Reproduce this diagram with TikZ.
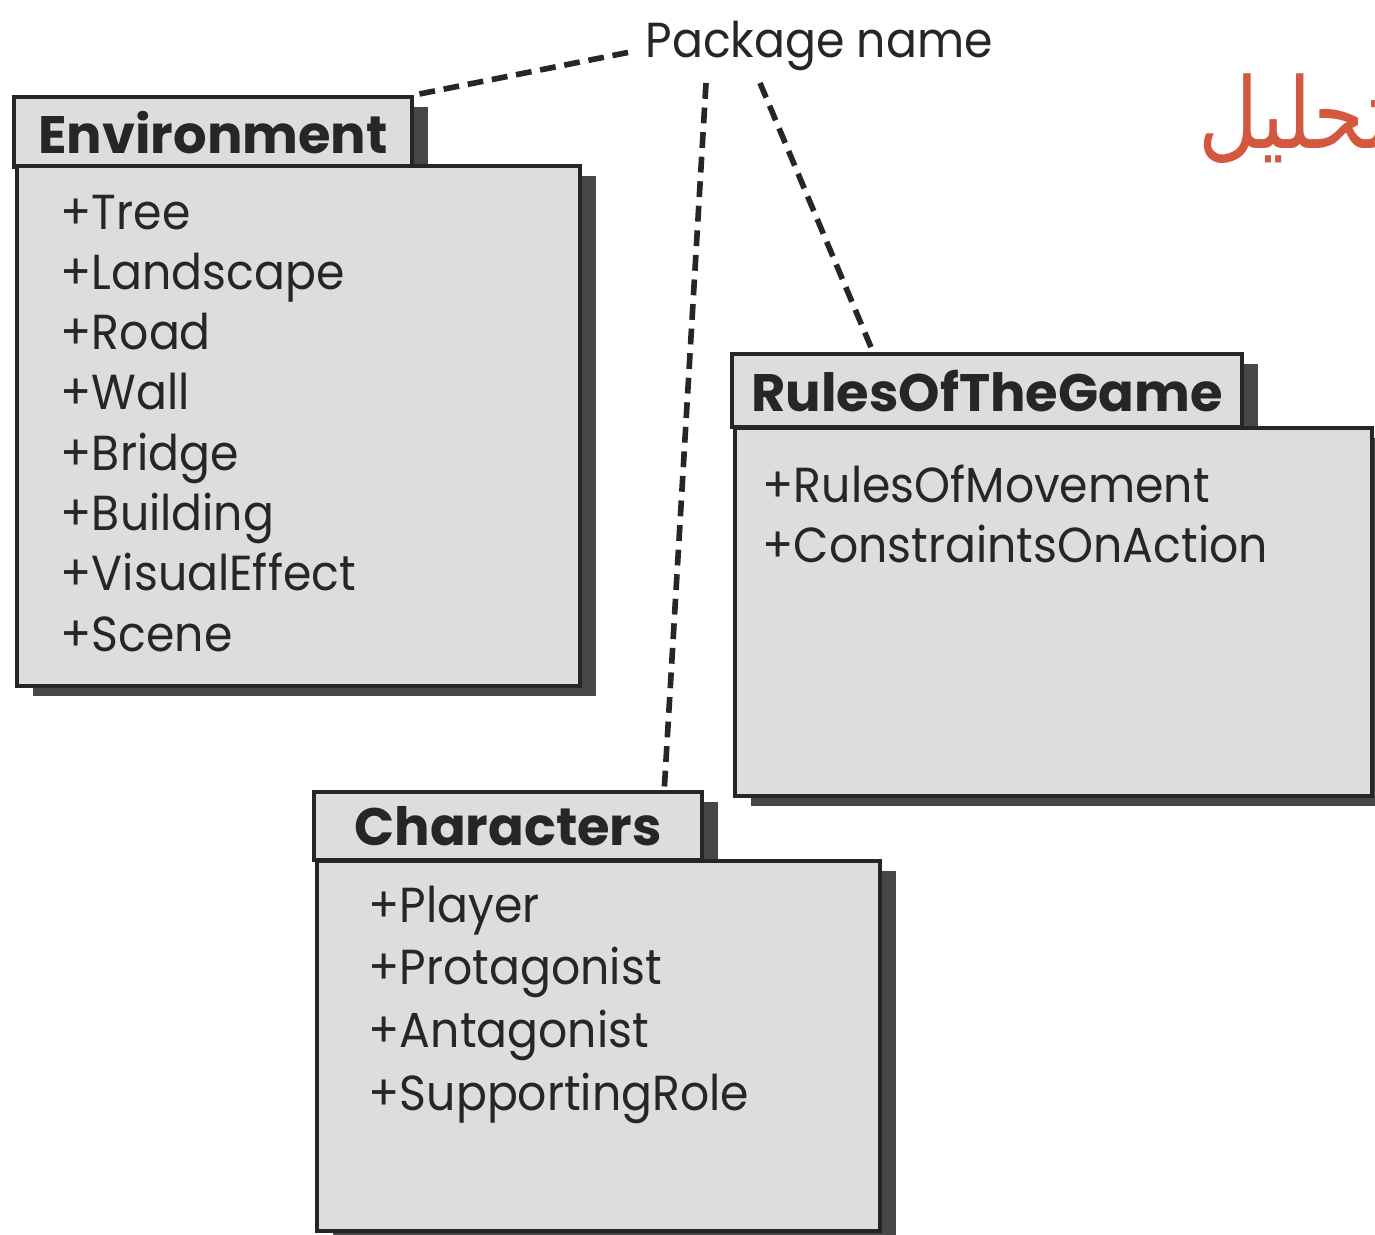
\documentclass[tikz,border=0pt]{standalone}
\usepackage{fontspec}
\setmainfont{Poppins}
\newfontfamily\itemfont{Poppins}[FakeStretch=0.93]
\newfontfamily\arabicfont[Script=Arabic, FakeStretch=0.84]{DejaVu Sans}
\TeXXeTstate=1
\usetikzlibrary{positioning, shadows}

\definecolor{pkgfill}{HTML}{DDDDDD}
\definecolor{inkgray}{HTML}{262626}
\definecolor{arabred}{HTML}{D4573F}

\begin{document}
\begin{tikzpicture}[
    pkgshadow/.style={drop shadow={shadow xshift=1.6mm, shadow yshift=-1.0mm, fill=black!72, opacity=1}},
    pkgtab/.style={draw=inkgray, fill=pkgfill, line width=1.2pt, anchor=north west, inner sep=0pt,
        font=\fontsize{15}{18}\selectfont\bfseries, text=inkgray, pkgshadow},
    pkgbody/.style={draw=inkgray, fill=pkgfill, line width=1.2pt, anchor=north west, inner sep=0pt, pkgshadow},
    item/.style={anchor=base west, inner sep=0pt, font=\itemfont\fontsize{14}{17}\selectfont, text=inkgray},
    pointer/.style={draw=inkgray, line width=1.6pt, dash pattern=on 4.5pt off 2.5pt}
]

\useasboundingbox[fill=white] (0,0) rectangle (13.75,-12.34);

% --- Environment package ---
\node[pkgtab, minimum width=3.98cm, minimum height=0.70cm] (envtab) at (0.12,-0.95) {Environment};
\node[pkgbody, minimum width=5.63cm, minimum height=5.20cm] (envbody) at ([xshift=0.3mm,yshift=0.5mm]envtab.south west) {};
\foreach \t [count=\i] in {Tree,Landscape,Road,Wall,Bridge,Building,VisualEffect,Scene}
    \node[item] (env\i) at (0.60,{-2.29-0.603*(\i-1)}) {+\t};

% --- RulesOfTheGame package ---
\node[pkgtab, minimum width=5.10cm, minimum height=0.73cm] (rulestab) at (7.30,-3.52) {RulesOfTheGame};
\node[pkgbody, minimum width=6.37cm, minimum height=3.68cm] (rulesbody) at ([xshift=0.3mm,yshift=0.3mm]rulestab.south west) {};
\foreach \t [count=\i] in {RulesOfMovement,ConstraintsOnAction}
    \node[item] (rules\i) at (7.62,{-5.02-0.60*(\i-1)}) {+\t};

% --- Characters package ---
\node[pkgtab, minimum width=3.88cm, minimum height=0.68cm] (chartab) at (3.12,-7.90) {Characters};
\node[pkgbody, minimum width=5.63cm, minimum height=3.70cm] (charbody) at ([xshift=0.3mm,yshift=0.3mm]chartab.south west) {};
\foreach \t [count=\i] in {Player,Protagonist,Antagonist,SupportingRole}
    \node[item] (char\i) at (3.68,{-9.22-0.627*(\i-1)}) {+\t};

% --- label and pointers ---
\node[item] (pkgname) at (6.45,-0.57) {Package name};
\draw[pointer] ([xshift=-1.7mm,yshift=-0.7mm]pkgname.west) -- (envtab.north east);
\draw[pointer] ([xshift=6.1mm,yshift=-1.2mm]pkgname.south west) -- ([xshift=-4mm]chartab.north east);
\draw[pointer] ([xshift=11.5mm,yshift=-1.2mm]pkgname.south west) -- ([xshift=14.3mm]rulestab.north west);

\node[anchor=base west, inner sep=0pt, text=arabred, font=\arabicfont\fontsize{28}{34}\selectfont] (arab) at (11.98,-1.48) {\beginR تحليل\endR};

\end{tikzpicture}
\end{document}
